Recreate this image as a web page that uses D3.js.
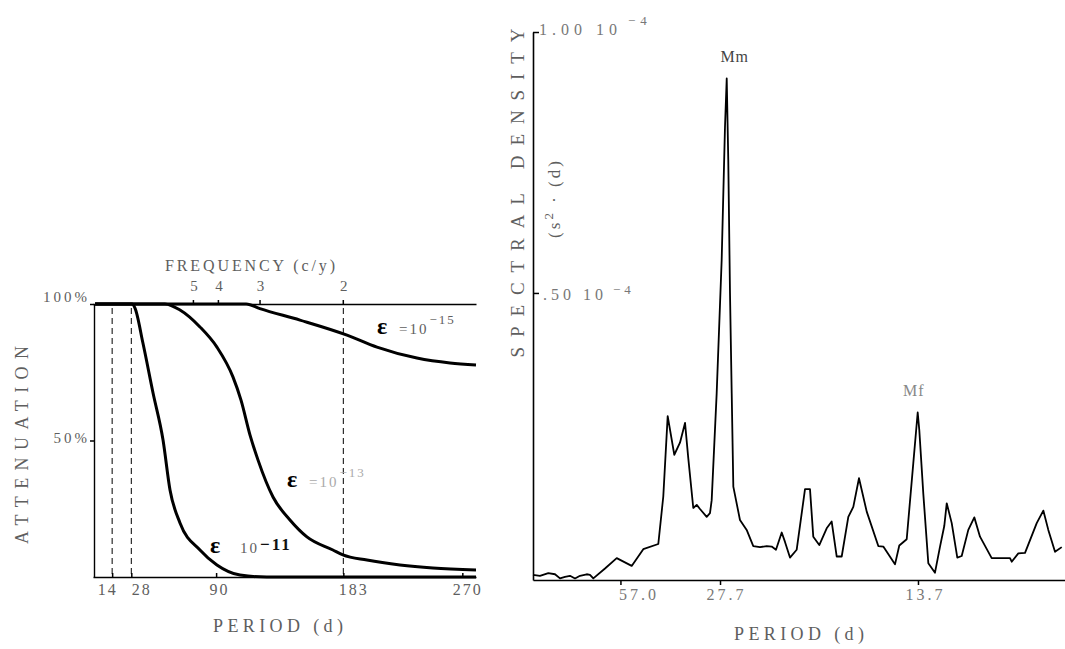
<!DOCTYPE html>
<html><head><meta charset="utf-8">
<script src="https://cdn.jsdelivr.net/npm/d3@7"></script>
<style>
body{margin:0;background:#fff}
svg{display:block}
text{font-family:"Liberation Serif","DejaVu Serif",serif}
</style>
</head><body>
<svg id="c" width="1065" height="649"></svg>
<script>
// ---------------- DATA ----------------
// Left panel: attenuation (%) vs period (d) for three epsilon values
const periodA = [1.5, 28.5, 30.7, 36.5, 43.9, 51.2, 56.3, 63.6, 78.2, 90.6, 107.5, 127, 280];
const attenA  = [100, 100, 98.5, 85.7, 67.4, 50.2, 31.9, 19.8, 9.9, 4.4, 0.7, 0, 0];          // eps = 1e-11
const periodB = [1.5, 52.6, 63.6, 78.2, 90.6, 102.3, 108.2, 114.8, 120.6, 131.6, 144, 156.4, 175.4, 182.7, 200.3, 224.4, 248.5, 280];
const attenB  = [100, 100, 97.8, 91.6, 84.2, 73.3, 64.8, 52.0, 42.9, 29.3, 20.9, 14.7, 9.9, 8.1, 6.2, 4.4, 3.3, 2.6]; // eps = 1e-13
const periodC = [1.5, 112, 122, 151.3, 185.7, 207.6, 236.8, 261, 280];
const attenC  = [100, 100, 98.3, 94.1, 88.6, 84.2, 80.2, 78.4, 77.7];                         // eps = 1e-15
const epsExponents = ["11", "13", "15"];
const periodTicks = [14, 28, 90, 183, 270];
const dashedPeriods = [14, 28, 183];
const freqTicks = [5, 4, 3, 2];            // cycles / year
const attenTicks = [50, 100];
const DAYS_PER_YEAR = 365.25;

// Right panel: spectral density (units of 1e-4 s^2/(c/d)) vs frequency (c/d)
const specFreq = [
  0.00125,0.00255,0.00410,0.00535,0.00628,0.00721,0.00814,0.00908,0.01001,0.01126,
  0.01187,0.01249,0.01467,0.01685,0.01964,0.02180,0.02460,0.02553,0.02635,0.02758,
  0.02864,0.02958,0.03019,0.03112,0.03176,0.03237,0.03362,0.03423,0.03455,0.03548,
  0.03641,0.03703,0.03735,0.03764,0.03796,0.03828,0.03858,0.03982,0.04107,0.04230,
  0.04355,0.04480,0.04573,0.04653,0.04760,0.04821,0.04914,0.05039,0.05194,0.05287,
  0.05348,0.05460,0.05598,0.05691,0.05785,0.05878,0.06001,0.06094,0.06200,0.06344,
  0.06560,0.06653,0.06871,0.06951,0.07089,0.07212,0.07294,0.07324,0.07398,0.07492,
  0.07616,0.07710,0.07790,0.07835,0.07928,0.08032,0.08114,0.08237,0.08349,0.08455,
  0.08673,0.09014,0.09046,0.09169,0.09294,0.09512,0.09635,0.09728,0.09853,0.09978];
const specDensity = [
  -0.040,-0.042,-0.037,-0.039,-0.047,-0.044,-0.042,-0.047,-0.042,-0.039,
  -0.040,-0.047,-0.028,-0.008,-0.023,0.009,0.019,0.110,0.264,0.190,
  0.213,0.251,0.183,0.088,0.094,0.086,0.071,0.078,0.103,0.308,
  0.563,0.819,0.911,0.755,0.500,0.308,0.129,0.065,0.046,0.015,
  0.013,0.015,0.014,0.008,0.041,0.023,-0.007,0.008,0.124,0.124,
  0.033,0.017,0.049,0.062,-0.005,-0.005,0.071,0.090,0.145,0.081,
  0.015,0.014,-0.020,0.016,0.028,0.174,0.271,0.237,0.116,-0.018,
  -0.036,0.014,0.054,0.097,0.059,-0.007,-0.004,0.046,0.070,0.033,
  -0.008,-0.008,-0.015,0.001,0.002,0.059,0.083,0.046,0.004,0.013];
const specPeriodTicks = [57.0, 27.7, 13.7];
const densityTicks = [0.5, 1.0];
const densityTickText = [".50 10", "1.00 10"];
const peakNames = ["Mm", "Mf"];
const peakFreqs = [0.03735, 0.07294];
const peakValues = [0.911, 0.271];

// ---------------- DRAWING ----------------
const svg = d3.select("#c");
const GRAY = "#5e5e5e";
const SERIF = '"Liberation Serif","DejaVu Serif",serif';

function styleAxis(g, sw) {
  g.attr("font-family", SERIF).attr("font-size", 16);
  g.select(".domain").attr("stroke", "#000").attr("stroke-width", sw);
  g.selectAll(".tick line").attr("stroke", "#000").attr("stroke-width", 1.5);
  g.selectAll(".tick text").attr("fill", GRAY).attr("letter-spacing", 3);
}

// ===== Left panel =====
const xL = d3.scaleLinear().domain([0, 280]).range([93, 476]);
const yL = d3.scaleLinear().domain([0, 100]).range([577, 304]);
const gL = svg.append("g");

gL.selectAll("line.dash").data(dashedPeriods).join("line")
  .attr("class", "dash")
  .attr("x1", d => xL(d)).attr("x2", d => xL(d))
  .attr("y1", yL(100) + 4).attr("y2", yL(0))
  .attr("stroke", "#000").attr("stroke-width", 1)
  .attr("stroke-dasharray", "6,4");

const periodLabelDx = [-5, 10, 3, 10, 5];
const axBottomL = d3.axisBottom(xL).tickValues(periodTicks)
  .tickSizeInner(-4).tickSizeOuter(0).tickPadding(7).tickFormat(d3.format("d"));
gL.append("g").attr("transform", `translate(0,${yL(0)})`).call(axBottomL).call(g => styleAxis(g, 1.6))
  .selectAll(".tick text").attr("dx", (d, i) => periodLabelDx[i]).attr("letter-spacing", 2);

const axTopL = d3.axisTop(xL).tickValues(freqTicks.map(f => DAYS_PER_YEAR / f))
  .tickFormat((d, i) => freqTicks[i]).tickSizeInner(4).tickSizeOuter(0).tickPadding(9);
gL.append("g").attr("transform", `translate(0,${yL(100)})`).call(axTopL).call(g => styleAxis(g, 1.4))
  .selectAll(".tick text").attr("font-size", 15).attr("dx", 2);

const axLeftL = d3.axisLeft(yL).tickValues(attenTicks).tickFormat(d => d + "%")
  .tickSizeInner(4).tickSizeOuter(0).tickPadding(0);
gL.append("g").attr("transform", `translate(${xL(0) + 1},0)`).call(axLeftL).call(g => styleAxis(g, 1.4))
  .selectAll(".tick text").attr("font-size", 15).attr("dy", (d) => d === 100 ? "-0.15em" : "0.1em");

const lineL = d3.line().x(d => xL(d[0])).y(d => yL(d[1])).curve(d3.curveMonotoneX);
const curves = [d3.zip(periodA, attenA), d3.zip(periodB, attenB), d3.zip(periodC, attenC)];
gL.selectAll("path.att").data(curves).join("path")
  .attr("class", "att")
  .attr("d", lineL).attr("fill", "none")
  .attr("stroke", "#000").attr("stroke-width", 3).attr("stroke-linejoin", "round");

// curve labels
const labelPos = [[210, 553], [287, 487], [377, 334]];
labelPos.forEach((p, i) => {
  const t = gL.append("text").attr("x", p[0]).attr("y", p[1]);
  t.append("tspan").text("ε").attr("font-size", 24).attr("fill", "#000").attr("font-weight", "bold");
  t.append("tspan").text(i === 0 ? "  10" : " =10").attr("font-size", 15).attr("fill", i === 1 ? "#aaa" : GRAY)
    .attr("dx", i === 0 ? 14 : 6).attr("letter-spacing", 2);
  t.append("tspan").text("−" + epsExponents[i]).attr("font-size", i === 0 ? 17 : 13)
    .attr("fill", i === 0 ? "#111" : (i === 1 ? "#aaa" : GRAY))
    .attr("font-weight", i === 0 ? "bold" : "normal")
    .attr("dy", i === 0 ? -3 : -10).attr("dx", 1).attr("letter-spacing", 2);
});

// titles
gL.append("text").attr("x", 250).attr("y", 271).attr("text-anchor", "middle")
  .attr("font-size", 16).attr("fill", GRAY).attr("textLength", 170).attr("lengthAdjust", "spacing")
  .text("FREQUENCY (c/y)");
gL.append("text").attr("x", 278).attr("y", 632).attr("text-anchor", "middle")
  .attr("font-size", 18).attr("fill", GRAY).attr("textLength", 130).attr("lengthAdjust", "spacing")
  .text("PERIOD (d)");
gL.append("text").attr("transform", "translate(28,445) rotate(-90)").attr("text-anchor", "middle")
  .attr("font-size", 18).attr("fill", GRAY).attr("textLength", 198).attr("lengthAdjust", "spacing")
  .text("ATTENUATION");

// ===== Right panel =====
const xR = d3.scaleLinear().domain([0.00125, 0.10039]).range([533, 1065]);
const yR = d3.scaleLinear().domain([-0.05, 1.0]).range([580, 32]);
const gR = svg.append("g");

const specLabelDx = [18, 6, 7];
const axBottomR = d3.axisBottom(xR).tickValues(specPeriodTicks.map(p => 1 / p))
  .tickFormat((d, i) => specPeriodTicks[i].toFixed(1)).tickSizeInner(5).tickSizeOuter(0).tickPadding(4);
gR.append("g").attr("transform", `translate(0,${yR.range()[0]})`).call(axBottomR).call(g => styleAxis(g, 1.6))
  .selectAll(".tick text").attr("dx", (d, i) => specLabelDx[i]).attr("fill", "#777");

const axLeftR = d3.axisRight(yR).tickValues(densityTicks).tickFormat("")
  .tickSizeInner(6).tickSizeOuter(0);
gR.append("g").attr("transform", `translate(${xR.range()[0]},0)`).call(axLeftR).call(g => styleAxis(g, 1.6));

densityTicks.forEach((v, i) => {
  const t = gR.append("text").attr("x", xR.range()[0] + (i === 0 ? 10 : 6)).attr("y", yR(v) + (i === 0 ? 7 : 3))
    .attr("font-size", 16).attr("fill", "#777").attr("letter-spacing", i === 0 ? 4 : 5);
  t.append("tspan").text(densityTickText[i]);
  t.append("tspan").text("−4").attr("font-size", 13).attr("dy", i === 0 ? -6 : -10).attr("dx", 6);
});

const lineR = d3.line().x(d => xR(d[0])).y(d => yR(d[1]));
gR.append("path").datum(d3.zip(specFreq, specDensity))
  .attr("d", lineR).attr("fill", "none").attr("stroke", "#000")
  .attr("stroke-width", 1.8).attr("stroke-linejoin", "round");

const peakDx = [8, -4];
peakNames.forEach((n, i) => {
  gR.append("text").attr("x", xR(peakFreqs[i]) + peakDx[i]).attr("y", yR(peakValues[i]) - 16)
    .attr("text-anchor", "middle").attr("font-size", 16).attr("fill", i === 0 ? "#444" : "#888")
    .attr("letter-spacing", 1).text(n);
});

gR.append("text").attr("transform", "translate(524,193) rotate(-90)").attr("text-anchor", "middle")
  .attr("font-size", 19).attr("fill", GRAY).attr("textLength", 329).attr("lengthAdjust", "spacing")
  .text("SPECTRAL DENSITY");
const unit = gR.append("text").attr("transform", "translate(560,198) rotate(-90)").attr("text-anchor", "middle")
  .attr("font-size", 17).attr("fill", GRAY).attr("letter-spacing", 3);
unit.append("tspan").text("(s");
unit.append("tspan").text("2").attr("font-size", 13).attr("dy", -7);
unit.append("tspan").text(" · (d)").attr("dy", 7);

gR.append("text").attr("x", 799).attr("y", 640).attr("text-anchor", "middle")
  .attr("font-size", 18).attr("fill", GRAY).attr("textLength", 130).attr("lengthAdjust", "spacing")
  .text("PERIOD (d)");
</script>
</body></html>
